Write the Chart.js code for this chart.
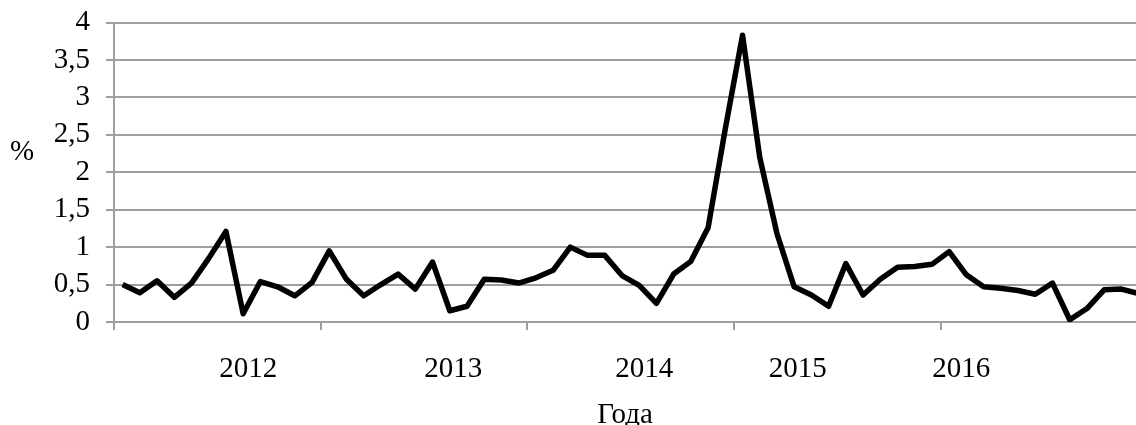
<!DOCTYPE html>
<html>
<head>
<meta charset="utf-8">
<script src="https://cdn.jsdelivr.net/npm/chart.js@4/dist/chart.umd.min.js"></script>
<style>
  html, body { margin: 0; padding: 0; background: #fff; }
  #wrap { width: 1136px; height: 425px; }
</style>
</head>
<body>
<div id="wrap"><canvas id="rateChart"></canvas></div>
<script>
// monthly values, %
const rateValues = [
  0.50, 0.39, 0.55, 0.33, 0.52, 0.85, 1.21, 0.11, 0.54, 0.47, 0.35, 0.53,
  0.95, 0.57, 0.35, 0.50, 0.64, 0.44, 0.80, 0.15, 0.21, 0.57, 0.56, 0.52,
  0.59, 0.69, 1.00, 0.89, 0.89, 0.62, 0.49, 0.25, 0.64, 0.81, 1.26, 2.58,
  3.83, 2.20, 1.18, 0.47, 0.36, 0.21, 0.78, 0.36, 0.57, 0.73, 0.74, 0.77,
  0.94, 0.63, 0.47, 0.45, 0.42, 0.37, 0.52, 0.03, 0.18, 0.43, 0.44, 0.38
];
const yearLabels = ['2012', '2013', '2014', '2015', '2016'];
const yearLabelAt = [7.3, 19.2, 30.3, 39.2, 48.7];   // month index under each label
const yearTickAt = [-0.5, 11.5, 23.5, 35.5, 47.5];    // tick marks between years
const yTicks = [0, 0.5, 1, 1.5, 2, 2.5, 3, 3.5, 4];

const gridColor = '#9e9e9e';
const serif = 'Liberation Serif, Times New Roman, serif';
const fontSize = 29;

const unitLabel = {
  id: 'unitLabel',
  afterDraw(chart) {
    const ctx = chart.ctx;
    ctx.save();
    ctx.font = fontSize + 'px ' + serif;
    ctx.fillStyle = '#000';
    ctx.textAlign = 'center';
    ctx.textBaseline = 'middle';
    ctx.fillText('%', 22, 152);
    ctx.restore();
  },
};

const isMark = (v) => yearTickAt.some((t) => Math.abs(t - v) < 1e-6);

new Chart(document.getElementById('rateChart'), {
  type: 'line',
  data: {
    datasets: [{
      data: rateValues.map((v, i) => ({ x: i, y: v })),
      borderColor: '#000',
      borderWidth: 5.5,
      borderJoinStyle: 'round',
      borderCapStyle: 'butt',
      pointRadius: 0,
      tension: 0,
      fill: false,
    }],
  },
  options: {
    responsive: true,
    maintainAspectRatio: false,
    animation: false,
    events: [],
    layout: { padding: { top: 19, right: 0, bottom: 0, left: 0 } },
    plugins: { legend: { display: false }, tooltip: { enabled: false } },
    scales: {
      x: {
        type: 'linear',
        min: -0.5,
        max: 58.85,
        afterBuildTicks(scale) {
          scale.ticks = yearTickAt.concat(yearLabelAt).map((v) => ({ value: v }));
        },
        afterFit(scale) { scale.height = 103; },
        grid: {
          drawOnChartArea: false,
          tickLength: 8,
          lineWidth: 2,
          color: (c) => (c.tick && isMark(c.tick.value) ? gridColor : 'rgba(0,0,0,0)'),
        },
        border: { color: gridColor, width: 2 },
        ticks: {
          autoSkip: false,
          maxRotation: 0,
          padding: 22,
          color: '#000',
          font: { family: serif, size: fontSize, lineHeight: 1.2 },
          callback(value) {
            const k = yearLabelAt.findIndex((p) => Math.abs(p - value) < 1e-6);
            return k >= 0 ? yearLabels[k] : '';
          },
        },
        title: {
          display: true,
          text: 'Года',
          color: '#000',
          font: { family: serif, size: fontSize, lineHeight: 1 },
          padding: { top: 0, bottom: -5 },
        },
      },
      y: {
        min: 0,
        max: 4,
        afterBuildTicks(scale) {
          scale.ticks = yTicks.map((v) => ({ value: v }));
        },
        afterFit(scale) { scale.width = 114; },
        grid: { color: gridColor, lineWidth: 2, tickLength: 8 },
        border: { color: gridColor, width: 2 },
        ticks: {
          autoSkip: false,
          padding: 16,
          color: '#000',
          font: { family: serif, size: fontSize, lineHeight: 0.45 },
          callback: (v) => String(v).replace('.', ','),
        },
      },
    },
  },
  plugins: [unitLabel],
});
</script>
</body>
</html>
